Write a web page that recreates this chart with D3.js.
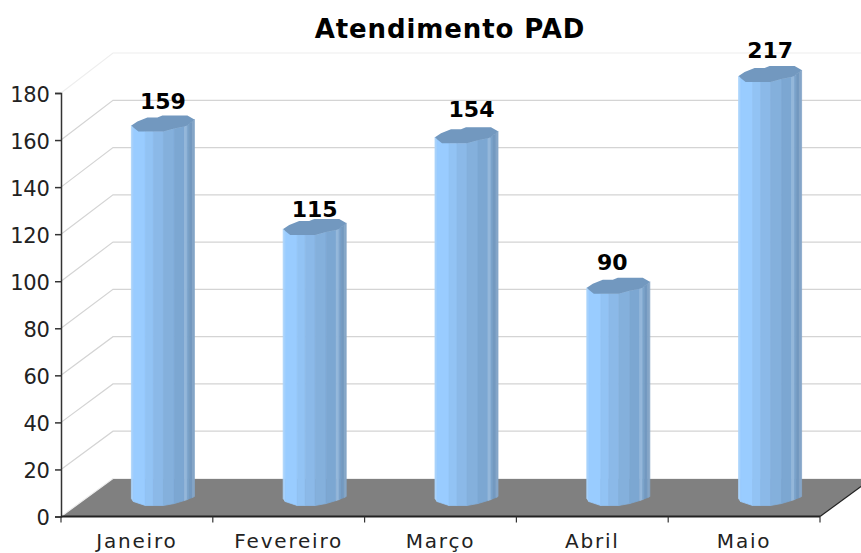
<!DOCTYPE html>
<html><head><meta charset="utf-8">
<script src="https://cdn.jsdelivr.net/npm/d3@7"></script>
<style>html,body{margin:0;padding:0;background:#fff;overflow:hidden}svg{display:block}text{font-family:"DejaVu Sans",sans-serif}</style>
</head><body><svg id="c" width="861" height="553"></svg>
<script>
const categories = ["Janeiro","Fevereiro","Março","Abril","Maio"];
const values = [159,115,154,90,217];
const yTicks = [0,20,40,60,80,100,120,140,160,180];
const titleText = "Atendimento PAD";
const labelShiftX = [0,0,5,-6,0];
const labelShiftY = [-1,3,-5,-3,-3];

const W=861,H=553;
const m={l:61,r:820,t:93,b:516.5}, depth={x:52,y:-38};
const svg=d3.select("#c");
const x=d3.scaleBand().domain(categories).range([m.l,m.r]);
const y=d3.scaleLinear().domain([0,180]).range([m.b,m.t]).clamp(true);
const yBack=d3.scaleLinear().domain([0,180]).range([m.b+depth.y,53]).clamp(true);

// floor
svg.append("polygon").attr("fill","#808080")
  .attr("points",[[m.l,m.b],[m.r,m.b],[m.r+depth.x,m.b+depth.y],[m.l+depth.x,m.b+depth.y]].join(" "));
svg.append("line").attr("x1",m.r).attr("y1",m.b).attr("x2",m.r+depth.x).attr("y2",m.b+depth.y).attr("stroke","#222").attr("stroke-width",1.2);

// walls
const grid=svg.append("g").attr("fill","none");
yTicks.forEach(t=>{
  const col = (t===0||t===180)?"#eeeeee":"#d4d4d4";
  grid.append("path").attr("stroke",col).attr("stroke-width",1.2)
    .attr("d",`M${m.l},${y(t)}L${m.l+depth.x},${yBack(t)}L${W},${yBack(t)}`);
});

// bars: faceted cylinder
const barW=63;
const facets=[[0,2,"#A9D3FB"],[2,14,"#99CCFF"],[14,22,"#92C3F4"],[22,32,"#8BB9E8"],[32,43,"#84B0DC"],[43,53,"#7CA7D2"],[53,56,"#94B7DA"],[56,58,"#7BA3CB"],[58,61,"#7399C0"],[61,63,"#85A6C8"]];
const topFront=[[0,2],[2,4],[7,8],[14,8],[22,8],[32,8],[43,5],[53,3],[56,2],[58,0],[61,-2],[63,-4]];
const botFront=[[0,1],[2,4],[6,8],[14,8],[22,8],[32,8],[37,6],[43,6],[49,5],[53,3],[56,2],[58,1],[61,0],[63,-1]];
const interp=(arr,px)=>d3.scaleLinear().domain(arr.map(d=>d[0])).range(arr.map(d=>d[1]))(px);
const topBack=[[63,-4],[56,-8],[31,-8],[26,-6],[16,-6],[6,-2],[0,2]];

const bars=svg.append("g").selectAll("g").data(values).join("g")
  .attr("transform",(d,i)=>`translate(${x(categories[i])+x.bandwidth()/2+depth.x/2-barW/2},0)`);
bars.each(function(v){
  const g=d3.select(this);
  const yTop=y(v)+depth.y/2, yBot=y(0)+depth.y/2;
  facets.forEach(f=>{
    g.append("polygon").attr("fill",f[2]).attr("stroke",f[2]).attr("stroke-width",0.8)
      .attr("points",[
        [f[0],yTop+interp(topFront,f[0])],
        [f[1],yTop+interp(topFront,f[1])],
        [f[1],yBot+interp(botFront,f[1])],
        [f[0],yBot+interp(botFront,f[0])]
      ].join(" "));
  });
  const cap=topFront.concat(topBack).map(p=>[p[0],yTop+p[1]]);
  g.append("polygon").attr("fill","#7298BF").attr("points",cap.join(" "));
});

// axes
const axL=svg.append("g").attr("transform",`translate(${m.l},0)`)
  .call(d3.axisLeft(y).tickValues(yTicks).tickSize(6).tickPadding(5));
axL.selectAll("text").attr("font-size",21).attr("fill","#222").attr("dy","0.4em").attr("x",-11.5).attr("letter-spacing",-0.3);
axL.selectAll("line,path").attr("stroke","#333").attr("stroke-width",1.5);
const axB=svg.append("g").attr("transform",`translate(0,${m.b})`)
  .call(d3.axisBottom(x).tickSize(0).tickPadding(17));
axB.selectAll("text").attr("font-size",20).attr("fill","#222").attr("letter-spacing",1.8);
axB.select("path").attr("stroke","#222").attr("stroke-width",2).attr("d",`M${m.l},0H${m.r}`);
axB.selectAll(".sep").data(d3.range(categories.length+1)).join("line").attr("class","sep")
  .attr("x1",i=>m.l+i*x.bandwidth()).attr("x2",i=>m.l+i*x.bandwidth()).attr("y1",0).attr("y2",6)
  .attr("stroke","#333").attr("stroke-width",1.2);

// value labels
svg.append("g").selectAll("text").data(values).join("text")
  .attr("x",(d,i)=>x(categories[i])+x.bandwidth()/2+depth.x/2+labelShiftX[i])
  .attr("y",(d,i)=>y(d)+depth.y/2-13+labelShiftY[i])
  .attr("text-anchor","middle").attr("font-size",22).attr("font-weight","bold").attr("fill","#000")
  .text(d=>d);

svg.append("text").attr("x",450).attr("y",38).attr("text-anchor","middle")
  .attr("font-size",26).attr("font-weight","bold").attr("fill","#000").attr("letter-spacing",0.9).text(titleText);
</script></body></html>
